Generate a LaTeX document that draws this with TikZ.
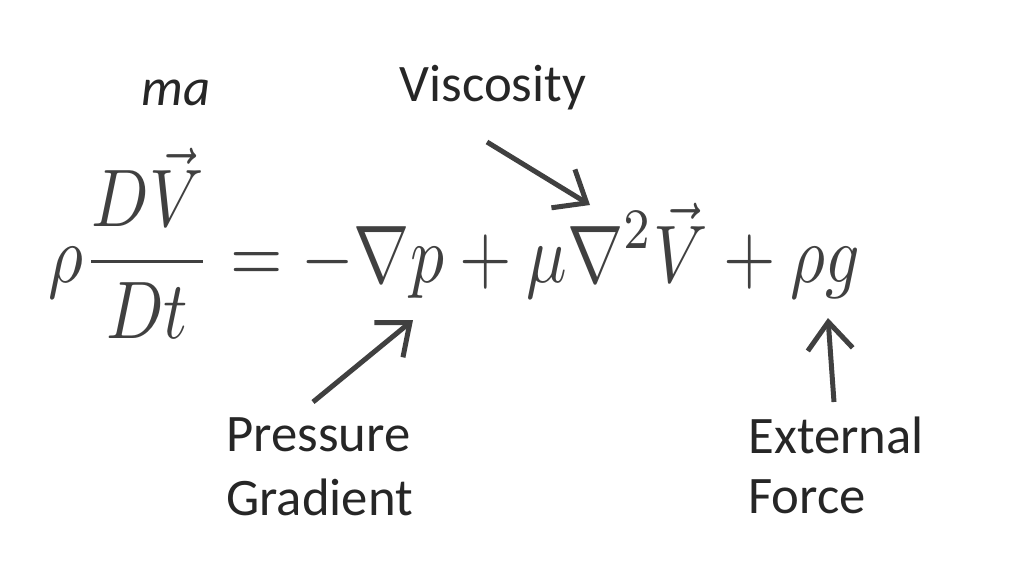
\documentclass[tikz,border=0pt]{standalone}
\usepackage{fontspec}
\usepackage{graphicx}
\setsansfont{Carlito}
\usetikzlibrary{arrows.meta}
\begin{document}
\begin{tikzpicture}[x=0.02cm,y=-0.02cm,
  lbl/.style={font=\sffamily\fontsize{30}{36}\selectfont,text=black!85,inner sep=0pt},
  arr/.style={draw=black!75,line width=0.1cm,-{Straight Barb[length=0.55cm,width=0.9cm]}}]
\useasboundingbox (0,0) rectangle (1024,576);
\node[anchor=base west,inner sep=0pt,text=black!75] (eq) at (48,282)
  {\scalebox{3.84}[4.65]{$\displaystyle\rho\frac{D\vec V}{Dt}=-\nabla p+\mu\nabla^2\vec V+\rho g$}};
\node[lbl,font=\sffamily\itshape\fontsize{30}{36}\selectfont] (ma) at (176,93) {ma};
\node[lbl] (visc) at (493,88) {Viscosity};
\node[lbl,anchor=west] (pres) at (226,435) {Pressure};
\node[lbl,anchor=west] (grad) at (226,497) {Gradient};
\node[lbl,anchor=west] (ext) at (748,435) {External};
\node[lbl,anchor=west] (force) at (748,497) {Force};
\coordinate (vs) at (487,142); \coordinate (ve) at (590,205);
\coordinate (ps) at (313,402); \coordinate (pe) at (413,320);
\coordinate (es) at (834,402); \coordinate (ee) at (828,318);
\draw[arr] (vs) -- (ve);
\draw[arr] (ps) -- (pe);
\draw[arr] (es) -- (ee);
\end{tikzpicture}
\end{document}
